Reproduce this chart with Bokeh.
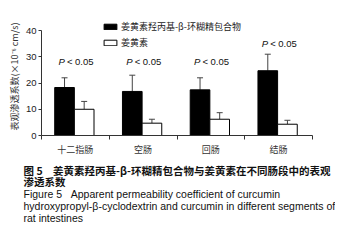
import math
from bokeh.plotting import figure
from bokeh.layouts import column
from bokeh.models import (ColumnDataSource, FixedTicker, Whisker, TeeHead,
                          Legend, LegendItem, Range1d)
from bokeh.core.properties import value
from bokeh.embed import file_html
from bokeh.resources import INLINE

segments = ["十二指肠", "空肠", "回肠", "结肠"]
series_names = ["姜黄素羟丙基-β-环糊精包合物", "姜黄素"]
complex_mean = [18.3, 16.8, 17.4, 24.7]
complex_err_top = [22.0, 23.0, 22.0, 31.0]
curcumin_mean = [10.0, 4.7, 6.2, 4.3]
curcumin_err_top = [13.0, 6.2, 8.7, 5.8]
p_y = [28.4, 28.4, 28.4, 35.1]
p_text = ["< 0.05", "< 0.05", "< 0.05", "< 0.05"]
y_ticks = [0, 10, 20, 30, 40]
y_label = "表观渗透系数(×10⁻⁶ cm/s)"
caption = [
    "图 5\u3000姜黄素羟丙基-β-环糊精包合物与姜黄素在不同肠段中的表观",
    "渗透系数",
    "Figure 5\u00a0\u00a0\u00a0Apparent permeability coefficient of curcumin",
    "hydroxypropyl-β-cyclodextrin and curcumin in different segments of",
    "rat intestines",
]

CJK = "Noto Sans CJK SC"
LAT = "Liberation Sans"
W = 335

n = len(segments)
centers = [i + 0.5 for i in range(n)]
x_complex = [i + 0.34 for i in range(n)]
x_cur = [i + 0.63 for i in range(n)]

p = figure(width=W, height=158, x_range=Range1d(0, n), y_range=Range1d(0, 45),
           output_backend="svg", toolbar_location=None,
           min_border_left=41, min_border_right=23, min_border_top=17, min_border_bottom=21)
p.outline_line_color = None
p.grid.visible = False
p.background_fill_color = "white"

src_c = ColumnDataSource(dict(x=x_complex, top=complex_mean, up=complex_err_top))
src_u = ColumnDataSource(dict(x=x_cur, top=curcumin_mean, up=curcumin_err_top))

r1 = p.vbar(x="x", top="top", width=0.29, source=src_c, fill_color="black", line_color="black")
r2 = p.vbar(x="x", top="top", width=0.29, source=src_u, fill_color="white", line_color="black", line_width=1)

for src in (src_c, src_u):
    w = Whisker(base="x", lower="top", upper="up", source=src, dimension="height",
                line_color="#444444", line_width=1,
                upper_head=TeeHead(size=6, line_color="#444444", line_width=1),
                lower_head=None)
    p.add_layout(w)

p.text(x=centers, y=p_y, text=["P"] * n, text_font=value(LAT), text_font_style="italic",
       text_font_size="9.5px", text_align="left", text_baseline="middle",
       x_offset=-17, text_color="#111111")
p.text(x=centers, y=p_y, text=p_text, text_font=value(LAT),
       text_font_size="9.5px", text_align="left", text_baseline="middle",
       x_offset=-8.5, text_color="#111111")

# axes
p.yaxis.ticker = FixedTicker(ticks=y_ticks)
p.yaxis.bounds = (0, 40)
p.yaxis.major_tick_out = 3
p.yaxis.major_tick_in = 0
p.yaxis.minor_tick_line_color = None
p.yaxis.major_label_text_font = LAT
p.yaxis.major_label_text_font_size = "9.5px"
p.yaxis.major_label_text_color = "#222222"
p.yaxis.major_label_standoff = 2
p.yaxis.axis_line_color = "#333333"
p.yaxis.major_tick_line_color = "#333333"
p.yaxis.axis_label = y_label
p.yaxis.axis_label_text_font = CJK
p.yaxis.axis_label_text_font_size = "9px"
p.yaxis.axis_label_text_font_style = "normal"
p.yaxis.axis_label_text_color = "#333333"
p.yaxis.axis_label_standoff = 2

p.xaxis.ticker = FixedTicker(ticks=centers, minor_ticks=list(range(n + 1)))
p.xaxis.major_label_overrides = {c: s for c, s in zip(centers, segments)}
p.xaxis.major_tick_line_color = None
p.xaxis.major_tick_out = 0
p.xaxis.major_tick_in = 0
p.xaxis.minor_tick_out = 4
p.xaxis.minor_tick_in = 0
p.xaxis.minor_tick_line_color = "#333333"
p.xaxis.axis_line_color = "#333333"
p.xaxis.major_label_text_font = CJK
p.xaxis.major_label_text_font_size = "9px"
p.xaxis.major_label_text_color = "#333333"
p.xaxis.major_label_standoff = 3

legend = Legend(items=[LegendItem(label=series_names[0], renderers=[r1]),
                       LegendItem(label=series_names[1], renderers=[r2])],
                location=(61, 86), padding=0, margin=0, spacing=3,
                glyph_width=16, glyph_height=7, label_height=9, label_standoff=3,
                label_text_font=CJK, label_text_font_size="9px",
                label_text_color="#222222", border_line_color=None,
                background_fill_alpha=0)
p.add_layout(legend)

# caption panel: coordinates are pixels from the panel's top-left corner
CH = 81
cap = figure(width=W, height=CH, x_range=Range1d(0, W), y_range=Range1d(CH, 0),
             output_backend="svg", toolbar_location=None,
             x_axis_location=None, y_axis_location=None,
             min_border_left=0, min_border_right=0, min_border_top=0, min_border_bottom=0)
cap.outline_line_color = None
cap.grid.visible = False

for fig in (p, cap):
    if "frame_align" in fig.properties():
        fig.frame_align = False

cap_x = [23, 23, 23, 23, 23]
cap_y = [11.5, 23, 35, 47, 59]
cap_font = [CJK, CJK, LAT, LAT, LAT]
cap_style = ["bold", "bold", "normal", "normal", "normal"]
for t, xx, yy, f, st in zip(caption, cap_x, cap_y, cap_font, cap_style):
    cap.text(x=[xx], y=[yy], text=[t], text_font=value(f), text_font_style=st,
             text_font_size="10.5px", text_align="left", text_baseline="middle",
             text_color="#111111")

layout = column(p, cap, spacing=0)
open("out.html", "w").write(file_html(layout, INLINE))
